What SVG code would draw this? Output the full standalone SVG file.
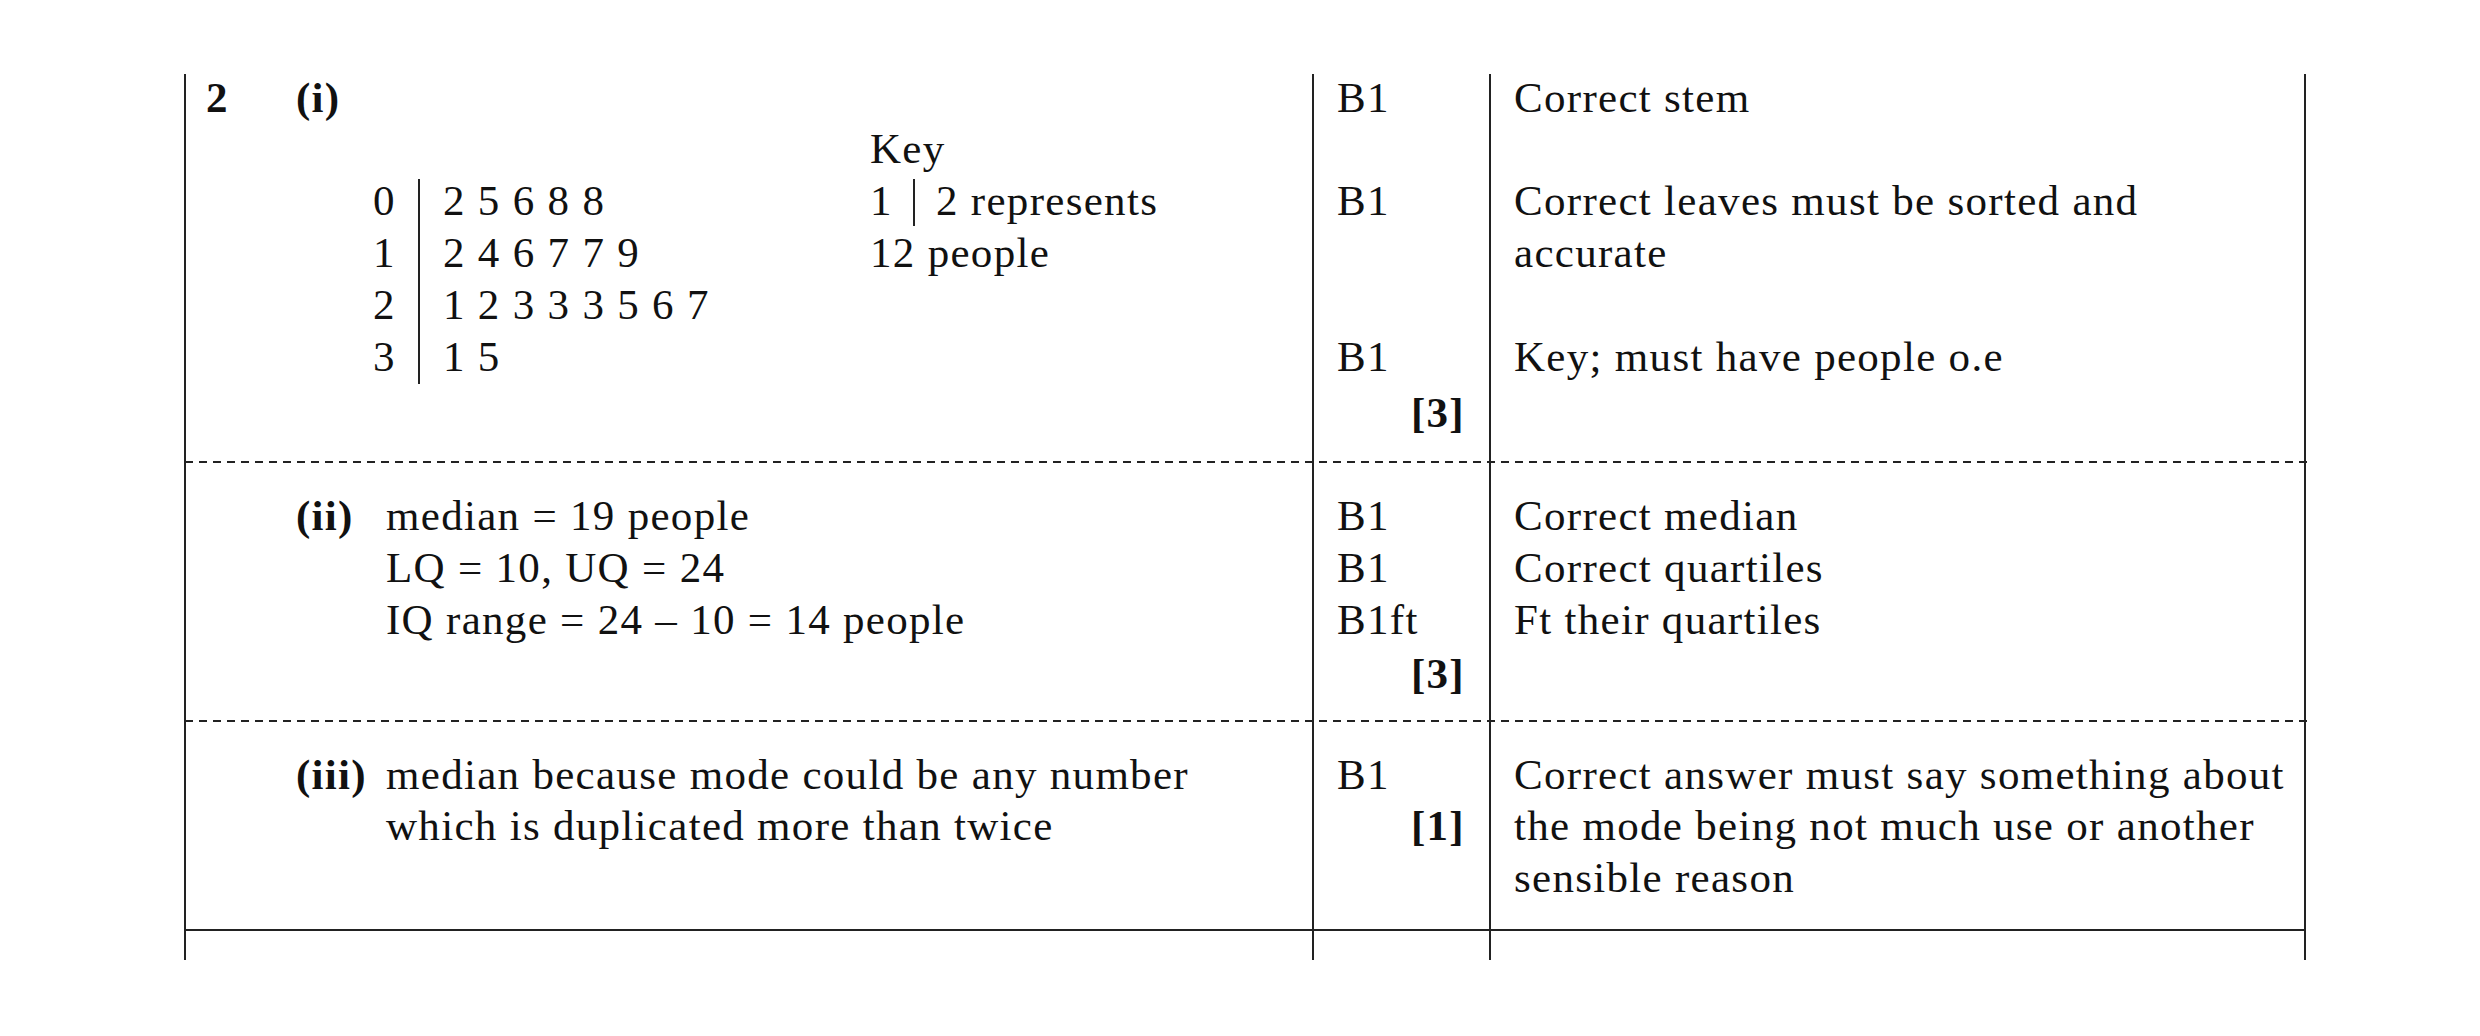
<svg xmlns="http://www.w3.org/2000/svg" width="2480" height="1036" viewBox="0 0 2480 1036">
<style>
text{font-family:"Liberation Serif",serif;font-size:43px;letter-spacing:1.3px;fill:#111}
.b{font-weight:bold}
.l{stroke:#222;stroke-width:2;fill:none}
.d{stroke:#222;stroke-width:2;stroke-dasharray:8,6;fill:none}
</style>
<rect width="2480" height="1036" fill="#fff"/>
<g id="grid">
<line class="l" x1="185" y1="74" x2="185" y2="960"/>
<line class="l" x1="1313" y1="74" x2="1313" y2="960"/>
<line class="l" x1="1490" y1="74" x2="1490" y2="960"/>
<line class="l" x1="2305" y1="74" x2="2305" y2="960"/>
<line class="d" x1="185" y1="462" x2="2308" y2="462"/>
<line class="d" x1="185" y1="721" x2="2308" y2="721"/>
<line class="l" x1="185" y1="930" x2="2305" y2="930"/>
</g>
<g id="part-i">
<text x="206" y="112" class="b">2</text>
<text x="296" y="112" class="b">(i)</text>
<text x="870" y="163">Key</text>
<text x="373" y="215">0</text><text x="443" y="215">2 5 6 8 8</text>
<text x="373" y="267">1</text><text x="443" y="267">2 4 6 7 7 9</text>
<text x="373" y="319">2</text><text x="443" y="319">1 2 3 3 3 5 6 7</text>
<text x="373" y="371">3</text><text x="443" y="371">1 5</text>
<line class="l" x1="419" y1="179" x2="419" y2="384"/>
<text x="870" y="215">1</text>
<line class="l" x1="914" y1="179" x2="914" y2="226"/>
<text x="936" y="215">2 represents</text>
<text x="870" y="267">12 people</text>
<text x="1337" y="112">B1</text>
<text x="1337" y="215">B1</text>
<text x="1337" y="371">B1</text>
<text x="1465" y="427" class="b" text-anchor="end">[3]</text>
<text x="1514" y="112">Correct stem</text>
<text x="1514" y="215">Correct leaves must be sorted and</text>
<text x="1514" y="267">accurate</text>
<text x="1514" y="371">Key; must have people o.e</text>
</g>
<g id="part-ii">
<text x="296" y="530" class="b">(ii)</text>
<text x="386" y="530">median = 19 people</text>
<text x="386" y="582">LQ = 10, UQ = 24</text>
<text x="386" y="634">IQ range = 24 – 10 = 14 people</text>
<text x="1337" y="530">B1</text>
<text x="1337" y="582">B1</text>
<text x="1337" y="634">B1ft</text>
<text x="1465" y="688" class="b" text-anchor="end">[3]</text>
<text x="1514" y="530">Correct median</text>
<text x="1514" y="582">Correct quartiles</text>
<text x="1514" y="634">Ft their quartiles</text>
</g>
<g id="part-iii">
<text x="296" y="789" class="b">(iii)</text>
<text x="386" y="789">median because mode could be any number</text>
<text x="386" y="840">which is duplicated more than twice</text>
<text x="1337" y="789">B1</text>
<text x="1465" y="840" class="b" text-anchor="end">[1]</text>
<text x="1514" y="789">Correct answer must say something about</text>
<text x="1514" y="840">the mode being not much use or another</text>
<text x="1514" y="892">sensible reason</text>
</g>
</svg>
